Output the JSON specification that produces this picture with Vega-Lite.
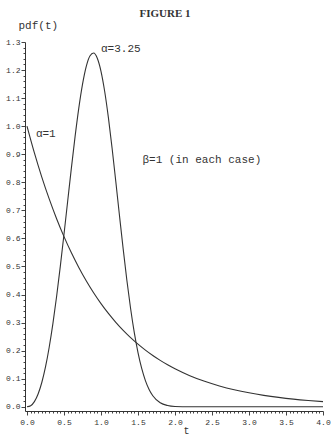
{
  "$schema": "https://vega.github.io/schema/vega-lite/v6.json",
  "autosize": "none",
  "width": 298,
  "height": 369,
  "padding": {"left": 25, "top": 42, "right": 8, "bottom": 24},
  "background": "white",
  "title": {"text": "FIGURE 1", "font": "Liberation Serif", "fontSize": 11, "fontWeight": "bold", "color": "#333", "anchor": "middle", "dx": -9, "offset": 0},
  "config": {"view": {"stroke": null}},
  "datasets": {
    "curves": [
      {"t": 0, "pdf": 1.0, "curve": "a1"},
      {"t": 0.1, "pdf": 0.9048, "curve": "a1"},
      {"t": 0.2, "pdf": 0.8187, "curve": "a1"},
      {"t": 0.3, "pdf": 0.7408, "curve": "a1"},
      {"t": 0.4, "pdf": 0.6703, "curve": "a1"},
      {"t": 0.5, "pdf": 0.6065, "curve": "a1"},
      {"t": 0.6, "pdf": 0.5488, "curve": "a1"},
      {"t": 0.7, "pdf": 0.4966, "curve": "a1"},
      {"t": 0.8, "pdf": 0.4493, "curve": "a1"},
      {"t": 0.9, "pdf": 0.4066, "curve": "a1"},
      {"t": 1.0, "pdf": 0.3679, "curve": "a1"},
      {"t": 1.1, "pdf": 0.3329, "curve": "a1"},
      {"t": 1.2, "pdf": 0.3012, "curve": "a1"},
      {"t": 1.3, "pdf": 0.2725, "curve": "a1"},
      {"t": 1.4, "pdf": 0.2466, "curve": "a1"},
      {"t": 1.5, "pdf": 0.2231, "curve": "a1"},
      {"t": 1.6, "pdf": 0.2019, "curve": "a1"},
      {"t": 1.7, "pdf": 0.1827, "curve": "a1"},
      {"t": 1.8, "pdf": 0.1653, "curve": "a1"},
      {"t": 1.9, "pdf": 0.1496, "curve": "a1"},
      {"t": 2.0, "pdf": 0.1353, "curve": "a1"},
      {"t": 2.2, "pdf": 0.1108, "curve": "a1"},
      {"t": 2.4, "pdf": 0.0907, "curve": "a1"},
      {"t": 2.6, "pdf": 0.0743, "curve": "a1"},
      {"t": 2.8, "pdf": 0.0608, "curve": "a1"},
      {"t": 3.0, "pdf": 0.0498, "curve": "a1"},
      {"t": 3.2, "pdf": 0.0408, "curve": "a1"},
      {"t": 3.4, "pdf": 0.0334, "curve": "a1"},
      {"t": 3.6, "pdf": 0.0273, "curve": "a1"},
      {"t": 3.8, "pdf": 0.0224, "curve": "a1"},
      {"t": 4.0, "pdf": 0.0183, "curve": "a1"},
      {"t": 0, "pdf": 0, "curve": "a325"},
      {"t": 0.05, "pdf": 0.0039, "curve": "a325"},
      {"t": 0.1, "pdf": 0.0183, "curve": "a325"},
      {"t": 0.15, "pdf": 0.0454, "curve": "a325"},
      {"t": 0.2, "pdf": 0.0865, "curve": "a325"},
      {"t": 0.25, "pdf": 0.142, "curve": "a325"},
      {"t": 0.3, "pdf": 0.2122, "curve": "a325"},
      {"t": 0.35, "pdf": 0.2963, "curve": "a325"},
      {"t": 0.4, "pdf": 0.393, "curve": "a325"},
      {"t": 0.45, "pdf": 0.5003, "curve": "a325"},
      {"t": 0.5, "pdf": 0.615, "curve": "a325"},
      {"t": 0.55, "pdf": 0.7336, "curve": "a325"},
      {"t": 0.6, "pdf": 0.8515, "curve": "a325"},
      {"t": 0.65, "pdf": 0.9635, "curve": "a325"},
      {"t": 0.7, "pdf": 1.0644, "curve": "a325"},
      {"t": 0.75, "pdf": 1.1488, "curve": "a325"},
      {"t": 0.8, "pdf": 1.2121, "curve": "a325"},
      {"t": 0.85, "pdf": 1.2502, "curve": "a325"},
      {"t": 0.9, "pdf": 1.2606, "curve": "a325"},
      {"t": 0.95, "pdf": 1.2421, "curve": "a325"},
      {"t": 1.0, "pdf": 1.1956, "curve": "a325"},
      {"t": 1.05, "pdf": 1.1236, "curve": "a325"},
      {"t": 1.1, "pdf": 1.0304, "curve": "a325"},
      {"t": 1.15, "pdf": 0.9215, "curve": "a325"},
      {"t": 1.2, "pdf": 0.8027, "curve": "a325"},
      {"t": 1.25, "pdf": 0.6808, "curve": "a325"},
      {"t": 1.3, "pdf": 0.5617, "curve": "a325"},
      {"t": 1.35, "pdf": 0.4501, "curve": "a325"},
      {"t": 1.4, "pdf": 0.3503, "curve": "a325"},
      {"t": 1.45, "pdf": 0.2642, "curve": "a325"},
      {"t": 1.5, "pdf": 0.1932, "curve": "a325"},
      {"t": 1.55, "pdf": 0.1366, "curve": "a325"},
      {"t": 1.6, "pdf": 0.0934, "curve": "a325"},
      {"t": 1.65, "pdf": 0.0617, "curve": "a325"},
      {"t": 1.7, "pdf": 0.0393, "curve": "a325"},
      {"t": 1.8, "pdf": 0.0142, "curve": "a325"},
      {"t": 1.9, "pdf": 0.0044, "curve": "a325"},
      {"t": 2.0, "pdf": 0.0011, "curve": "a325"},
      {"t": 2.2, "pdf": 0.0001, "curve": "a325"},
      {"t": 2.6, "pdf": 0, "curve": "a325"},
      {"t": 3.0, "pdf": 0, "curve": "a325"},
      {"t": 4.0, "pdf": 0, "curve": "a325"}
    ],
    "labels": [
      {"t": 1.0, "pdf": 1.275, "label": "α=3.25"},
      {"t": 0.12, "pdf": 0.972, "label": "α=1"},
      {"t": 1.56, "pdf": 0.879, "label": "β=1 (in each case)"}
    ]
  },
  "encoding": {
    "x": {
      "field": "t", "type": "quantitative",
      "scale": {"domain": [-0.027, 4.0], "nice": false, "zero": false},
      "axis": {
        "title": "t", "titleFont": "Liberation Mono", "titleFontSize": 10, "titleFontWeight": "normal", "titleColor": "#333",
        "titleX": 161, "titleY": 19, "titleBaseline": "middle",
        "values": [0,0.05,0.1,0.15,0.2,0.25,0.3,0.35,0.4,0.45,0.5,0.55,0.6,0.65,0.7,0.75,0.8,0.85,0.9,0.95,1,1.05,1.1,1.15,1.2,1.25,1.3,1.35,1.4,1.45,1.5,1.55,1.6,1.65,1.7,1.75,1.8,1.85,1.9,1.95,2,2.05,2.1,2.15,2.2,2.25,2.3,2.35,2.4,2.45,2.5,2.55,2.6,2.65,2.7,2.75,2.8,2.85,2.9,2.95,3,3.05,3.1,3.15,3.2,3.25,3.3,3.35,3.4,3.45,3.5,3.55,3.6,3.65,3.7,3.75,3.8,3.85,3.9,3.95,4],
        "labelExpr": "abs(datum.value*2 - round(datum.value*2)) < 0.001 ? format(datum.value, '.1f') : ''",
        "labelOverlap": false, "labelFlush": false,
        "labelFont": "Liberation Mono", "labelFontSize": 8, "labelColor": "#333", "labelPadding": 3,
        "tickSize": {"condition": {"test": "abs(datum.value*2 - round(datum.value*2)) < 0.001", "value": 4}, "value": 2},
        "tickColor": "#444", "domainColor": "#333", "grid": false
      }
    },
    "y": {
      "field": "pdf", "type": "quantitative",
      "scale": {"domain": [-0.015, 1.3], "nice": false, "zero": false},
      "axis": {
        "title": "pdf(t)", "titleFont": "Liberation Mono", "titleFontSize": 11, "titleFontWeight": "normal", "titleColor": "#333",
        "titleAngle": 0, "titleX": -7, "titleY": -17, "titleAlign": "left", "titleBaseline": "middle",
        "values": [0,0.02,0.04,0.06,0.08,0.1,0.12,0.14,0.16,0.18,0.2,0.22,0.24,0.26,0.28,0.3,0.32,0.34,0.36,0.38,0.4,0.42,0.44,0.46,0.48,0.5,0.52,0.54,0.56,0.58,0.6,0.62,0.64,0.66,0.68,0.7,0.72,0.74,0.76,0.78,0.8,0.82,0.84,0.86,0.88,0.9,0.92,0.94,0.96,0.98,1,1.02,1.04,1.06,1.08,1.1,1.12,1.14,1.16,1.18,1.2,1.22,1.24,1.26,1.28,1.3],
        "labelExpr": "abs(datum.value*10 - round(datum.value*10)) < 0.001 ? format(datum.value, '.1f') : ''",
        "labelOverlap": false, "labelFlush": false,
        "labelFont": "Liberation Mono", "labelFontSize": 8, "labelColor": "#333", "labelPadding": 1,
        "tickSize": {"condition": {"test": "abs(datum.value*10 - round(datum.value*10)) < 0.001", "value": 4}, "value": 2},
        "tickColor": "#444", "domainColor": "#333", "grid": false
      }
    }
  },
  "layer": [
    {
      "data": {"name": "curves"},
      "mark": {"type": "line", "interpolate": "monotone", "color": "#333", "strokeWidth": 1.1},
      "encoding": {"detail": {"field": "curve"}}
    },
    {
      "data": {"name": "labels"},
      "mark": {"type": "text", "align": "left", "baseline": "middle", "font": "Liberation Mono", "fontSize": 11, "color": "#333"},
      "encoding": {"text": {"field": "label"}}
    }
  ]
}
